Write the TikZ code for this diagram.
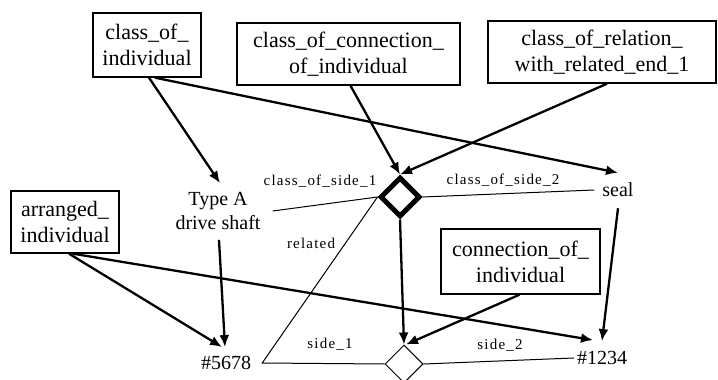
\documentclass[tikz,border=0pt]{standalone}
\usepackage{fontspec}
\setmainfont{Liberation Serif}
\newfontfamily\lblfont[LetterSpace=8]{Liberation Serif}
\usetikzlibrary{arrows.meta,shapes.geometric}
\begin{document}
\begin{tikzpicture}[x=1pt,y=-1pt,
  box/.style={draw,line width=1.4pt,align=center,inner sep=0pt,
    font=\fontsize{22}{26}\selectfont},
  free/.style={align=center,inner sep=4pt,font=\fontsize{20}{24}\selectfont},
  lbl/.style={inner sep=0pt,font=\lblfont\fontsize{15}{17}\selectfont},
  arr/.style={line width=2.3pt,-{Latex[length=12pt,width=10pt]}},
  thin/.style={line width=1pt},
]
\useasboundingbox (0,0) rectangle (718,380);
% boxes
\node[box,minimum width=108pt,minimum height=64pt] (coi) at (147,45) {class\_of\_\\individual};
\node[box,minimum width=223pt,minimum height=62pt] (cocoi) at (348.5,54) {class\_of\_connection\_\\of\_individual};
\node[box,minimum width=228pt,minimum height=62pt] (cor) at (602,52) {class\_of\_relation\_\\with\_related\_end\_1};
\node[box,minimum width=108pt,minimum height=62pt] (ai) at (65,222) {arranged\_\\individual};
\node[box,minimum width=159pt,minimum height=65pt] (coni) at (520.5,261.5) {connection\_of\_\\individual};
% free texts
\node[free] (typeA) at (218,211) {Type A\\drive shaft};
\node[free] (seal) at (618,190) {seal};
\node[free] (n5678) at (226,363) {\#5678};
\node[free] (n1234) at (602,358) {\#1234};
% diamonds
\node[diamond,draw,line width=5pt,minimum width=40pt,minimum height=40pt,inner sep=0pt,fill=white] (bd) at (400,197) {};
\node[diamond,draw,line width=1pt,minimum width=38pt,minimum height=38pt,inner sep=0pt] (sd) at (404,364) {};
% thin relation lines
\draw[thin] (bd.west) -- ([xshift=8pt]typeA.east);
\draw[thin] (bd.east) -- ([xshift=-4pt]seal.west);
\draw[thin] (bd.west) -- ([xshift=7pt]n5678.east) -- (sd.west);
\draw[thin] (sd.east) -- ([xshift=1pt]n1234.west);
% labels
\node[lbl] (lcs1) at (320,181) {class\_of\_side\_1};
\node[lbl] (lcs2) at (503,180) {class\_of\_side\_2};
\node[lbl] (lrel) at (311,243) {related};
\node[lbl] (ls1) at (330,344) {side\_1};
\node[lbl] (ls2) at (500,345) {side\_2};
% arrows
\draw[arr] ([xshift=2pt]coi.south) -- ([xshift=2pt,yshift=5pt]typeA.north);
\draw[arr] ([xshift=8pt]coi.south) -- ([yshift=6pt]seal.north);
\draw[arr] ([xshift=2pt]cocoi.south) -- (bd.north);
\draw[arr] ([xshift=5pt]cor.south) -- (bd.north);
\draw[arr] ([xshift=1pt,yshift=-6pt]typeA.south) -- ([xshift=-1pt,yshift=5pt]n5678.north);
\draw[arr] ([xshift=4pt]ai.south) -- ([xshift=-4pt,yshift=5pt]n5678.north);
\draw[arr] ([xshift=8pt]ai.south) -- ([xshift=-9pt,yshift=7pt]n1234.north);
\draw[arr] ([yshift=-7pt]seal.south) -- ([yshift=6pt]n1234.north);
\draw[arr] (bd.south) -- (sd.north);
\draw[arr] ([xshift=-1pt]coni.south) -- ([xshift=2pt]sd.north);
\end{tikzpicture}
\end{document}
